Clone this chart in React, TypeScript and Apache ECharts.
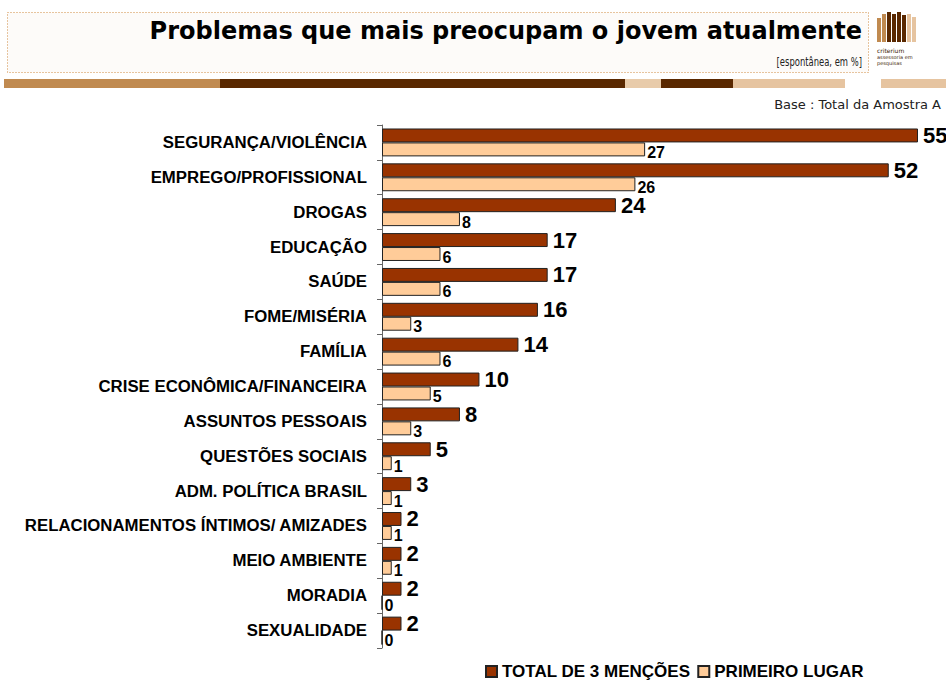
import React, { useEffect, useRef } from "react";
import * as echarts from "echarts";

const categories = [
  "SEGURANÇA/VIOLÊNCIA",
  "EMPREGO/PROFISSIONAL",
  "DROGAS",
  "EDUCAÇÃO",
  "SAÚDE",
  "FOME/MISÉRIA",
  "FAMÍLIA",
  "CRISE ECONÔMICA/FINANCEIRA",
  "ASSUNTOS PESSOAIS",
  "QUESTÕES SOCIAIS",
  "ADM. POLÍTICA BRASIL",
  "RELACIONAMENTOS ÍNTIMOS/ AMIZADES",
  "MEIO AMBIENTE",
  "MORADIA",
  "SEXUALIDADE",
];
const totalMencoes = [55, 52, 24, 17, 17, 16, 14, 10, 8, 5, 3, 2, 2, 2, 2];
const primeiroLugar = [27, 26, 8, 6, 6, 3, 6, 5, 3, 1, 1, 1, 1, 0, 0];
const seriesNames = ["TOTAL DE 3 MENÇÕES", "PRIMEIRO LUGAR"];
const titleText = "Problemas que mais preocupam o jovem atualmente";
const subtitleText = "[espontânea, em %]";
const baseText = "Base : Total da Amostra A";

export default function App() {
  const ref = useRef<HTMLDivElement>(null);
  useEffect(() => {
    if (!ref.current) return;
    const chart = echarts.init(ref.current, null, { renderer: "svg" });
    const band = [
      { x: 4, w: 216, c: "#C08A50" },
      { x: 220, w: 405, c: "#5A2800" },
      { x: 625, w: 36, c: "#E8CBAA" },
      { x: 661, w: 72, c: "#5A2800" },
      { x: 733, w: 112, c: "#E6C4A0" },
      { x: 881, w: 65, c: "#E6C4A0" },
    ];
    const logoBars = [
      { x: 877, y: 18, h: 24, c: "#C08A50" },
      { x: 882, y: 14, h: 28, c: "#C08A50" },
      { x: 887, y: 12, h: 30, c: "#5A2800" },
      { x: 892, y: 14, h: 28, c: "#5A2800" },
      { x: 897, y: 12, h: 30, c: "#5A2800" },
      { x: 902, y: 15, h: 27, c: "#5A2800" },
      { x: 907, y: 14, h: 28, c: "#E6C4A0" },
      { x: 912, y: 17, h: 25, c: "#E6C4A0" },
    ];
    chart.setOption({
      animation: false,
      graphic: [
        {
          type: "rect",
          shape: { x: 7.5, y: 12.5, width: 861, height: 60 },
          style: { fill: "#FDFBF9", stroke: "#D08A40", lineWidth: 1, lineDash: [1, 2] },
        },
        {
          type: "text",
          x: 862,
          y: 31,
          style: {
            text: titleText,
            align: "right",
            verticalAlign: "middle",
            font: "bold 24px 'DejaVu Sans'",
            fill: "#000",
          },
        },
        {
          type: "text",
          x: 862,
          y: 62,
          scaleX: 0.78,
          style: {
            text: subtitleText,
            align: "right",
            verticalAlign: "middle",
            font: "12px 'DejaVu Sans Condensed'",
            fill: "#222",
          },
        },
        ...band.map((b) => ({
          type: "rect",
          shape: { x: b.x, y: 79, width: b.w, height: 9 },
          style: { fill: b.c },
        })),
        ...logoBars.map((b) => ({
          type: "rect",
          shape: { x: b.x, y: b.y, width: 4, height: b.h },
          style: { fill: b.c },
        })),
        {
          type: "text",
          x: 877,
          y: 47,
          style: { text: "criterium", font: "6px 'DejaVu Sans'", fill: "#3A2000" },
        },
        {
          type: "text",
          x: 877,
          y: 54,
          style: { text: "assessoria em", font: "5px 'DejaVu Sans'", fill: "#3A2000" },
        },
        {
          type: "text",
          x: 877,
          y: 60,
          style: { text: "pesquisas", font: "5px 'DejaVu Sans'", fill: "#3A2000" },
        },
        {
          type: "text",
          x: 941,
          y: 104,
          style: {
            text: baseText,
            align: "right",
            verticalAlign: "middle",
            font: "13px 'DejaVu Sans'",
            fill: "#222",
          },
        },
      ],
      legend: {
        data: seriesNames,
        left: 485,
        top: 663,
        padding: 0,
        itemWidth: 11,
        itemHeight: 11,
        itemGap: 7,
        icon: "rect",
        textStyle: {
          fontFamily: "'Liberation Sans', Arial",
          fontWeight: "bold",
          fontSize: 17,
          color: "#000",
        },
      },
      grid: { left: 382, right: 28, top: 125, bottom: 34, containLabel: false },
      xAxis: {
        type: "value",
        min: 0,
        max: 55,
        show: false,
      },
      yAxis: {
        type: "category",
        data: categories,
        inverse: true,
        axisLine: { show: true, lineStyle: { color: "#666", width: 1 } },
        axisTick: { show: true, length: 5, lineStyle: { color: "#666" } },
        axisLabel: {
          margin: 15,
          fontFamily: "'Liberation Sans', Arial",
          fontWeight: "bold",
          fontSize: 16.8,
          color: "#000",
        },
        splitLine: { show: false },
      },
      series: [
        {
          name: seriesNames[0],
          type: "bar",
          data: totalMencoes,
          barGap: "0%",
          barCategoryGap: "20%",
          itemStyle: { color: "#993300", borderColor: "#222", borderWidth: 1 },
          label: {
            show: true,
            position: "right",
            distance: 5,
            fontFamily: "'Liberation Sans', Arial",
            fontWeight: "bold",
            fontSize: 22,
            color: "#000",
          },
        },
        {
          name: seriesNames[1],
          type: "bar",
          data: primeiroLugar,
          itemStyle: { color: "#FFCC99", borderColor: "#222", borderWidth: 1 },
          label: {
            show: true,
            position: "right",
            distance: 2,
            offset: [0, 3],
            fontFamily: "'Liberation Sans', Arial",
            fontWeight: "bold",
            fontSize: 16,
            color: "#000",
          },
        },
      ],
    });
    return () => chart.dispose();
  }, []);
  return (
    <div
      ref={ref}
      style={{ position: "absolute", left: 0, top: 0, width: 946, height: 682 }}
    />
  );
}
